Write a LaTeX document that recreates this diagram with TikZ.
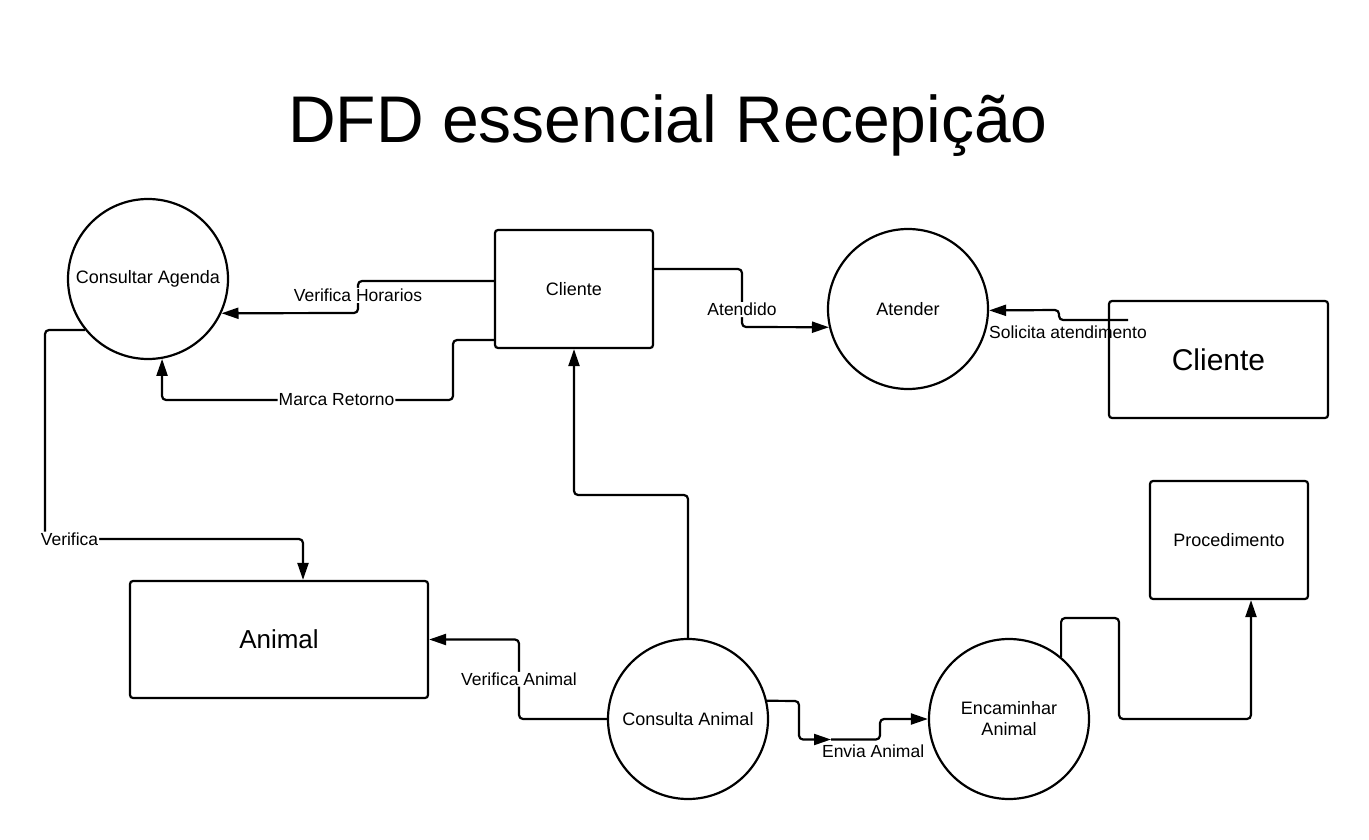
\documentclass[tikz,border=0pt]{standalone}
\usepackage{fontspec}
\setmainfont{Liberation Sans}
\usetikzlibrary{arrows.meta}
\tikzstyle{flowhead}=[>/.tip={Triangle[length=17pt,width=11pt]}]
\tikzstyle{flow}=[line width=2.2pt,flowhead,->,rounded corners=4pt]
\tikzstyle{proc}=[circle,draw,line width=2.2pt,minimum size=160pt,inner sep=0pt,align=center,font=\fontsize{18}{21}\selectfont]
\tikzstyle{ent}=[rectangle,draw,line width=2.2pt,rounded corners=3pt,minimum width=158pt,minimum height=118pt,font=\fontsize{18}{21}\selectfont]
\tikzstyle{lbl}=[fill=white,inner sep=1pt,font=\fontsize{17.5}{20}\selectfont]

\begin{document}
\begin{tikzpicture}[x=1pt,y=-1pt]
	\useasboundingbox (0,0) rectangle (1369,840);
	\node[anchor=base,font=\fontsize{66}{70}\selectfont] (title) at (668,143) {DFD essencial Recepição};
	\node[proc] (agenda)   at (148,279)  {Consultar Agenda};
	\node[proc] (atender)  at (908,309)  {Atender};
	\node[proc] (consulta) at (688,719)  {Consulta Animal};
	\node[proc] (encam)    at (1009,719) {Encaminhar\\Animal};
	\node[ent] (cli)    at (574,289)  {Cliente};
	\node[ent,minimum width=219pt,minimum height=117pt,font=\fontsize{30}{34}\selectfont] (cliext) at (1218.5,359.5) {Cliente};
	\node[ent,minimum width=298pt,minimum height=117pt,font=\fontsize{26}{30}\selectfont] (animal) at (279,639.5) {Animal};
	\node[ent] (proced) at (1229,540) {Procedimento};
	\coordinate (sol) at (1128,320);
	\coordinate (env) at (831,739.5);
	\draw[flow] (cli.west |- 0,281) -- (358,281) -- node[lbl,pos=.45] (lhor) {Verifica Horarios} (358,313) -- (agenda.-25);
	\draw[flow] (cli.west |- 0,340) -- (453,340) -- (453,400) -- node[lbl,pos=.4] (lret) {Marca Retorno} (162,400) -- (agenda.-80);
	\draw[flow] (agenda.-141) -- (45,330) -- (45,539) -- node[lbl,pos=.095] (lver) {Verifica} (303,539) -- (303,0 |- animal.north);
	\draw[flow] (consulta.north) -- (688,495) -- (574,495) -- (cli.south);
	\draw[flow] (cli.east |- 0,269) -- (742,269) -- node[lbl,pos=.7] (latd) {Atendido} (742,327) -- (atender.-167);
	\draw[flow] (sol) -- node[lbl,fill=none,below,inner sep=5pt,pos=.87] (lsol) {Solicita atendimento} (1059,320) -- (1059,310) -- (atender.-1);
	\draw[flow] (consulta.west) -- (519,719) |- node[lbl,pos=.25] (lani) {Verifica Animal} (animal.east);
	\draw[flow] (consulta.13) -- (799,701) -- (799,739.5) -- (env);
	\draw[flow] (env) -- node[lbl,fill=none,below,inner sep=4pt,pos=.86] (lenv) {Envia Animal} (880,739.5) -- (880,719) -- (encam.west);
	\draw[flow] (encam.50) |- (1119,618) |- (1251,719) -- (1251,0 |- proced.south);
\end{tikzpicture}
\end{document}
